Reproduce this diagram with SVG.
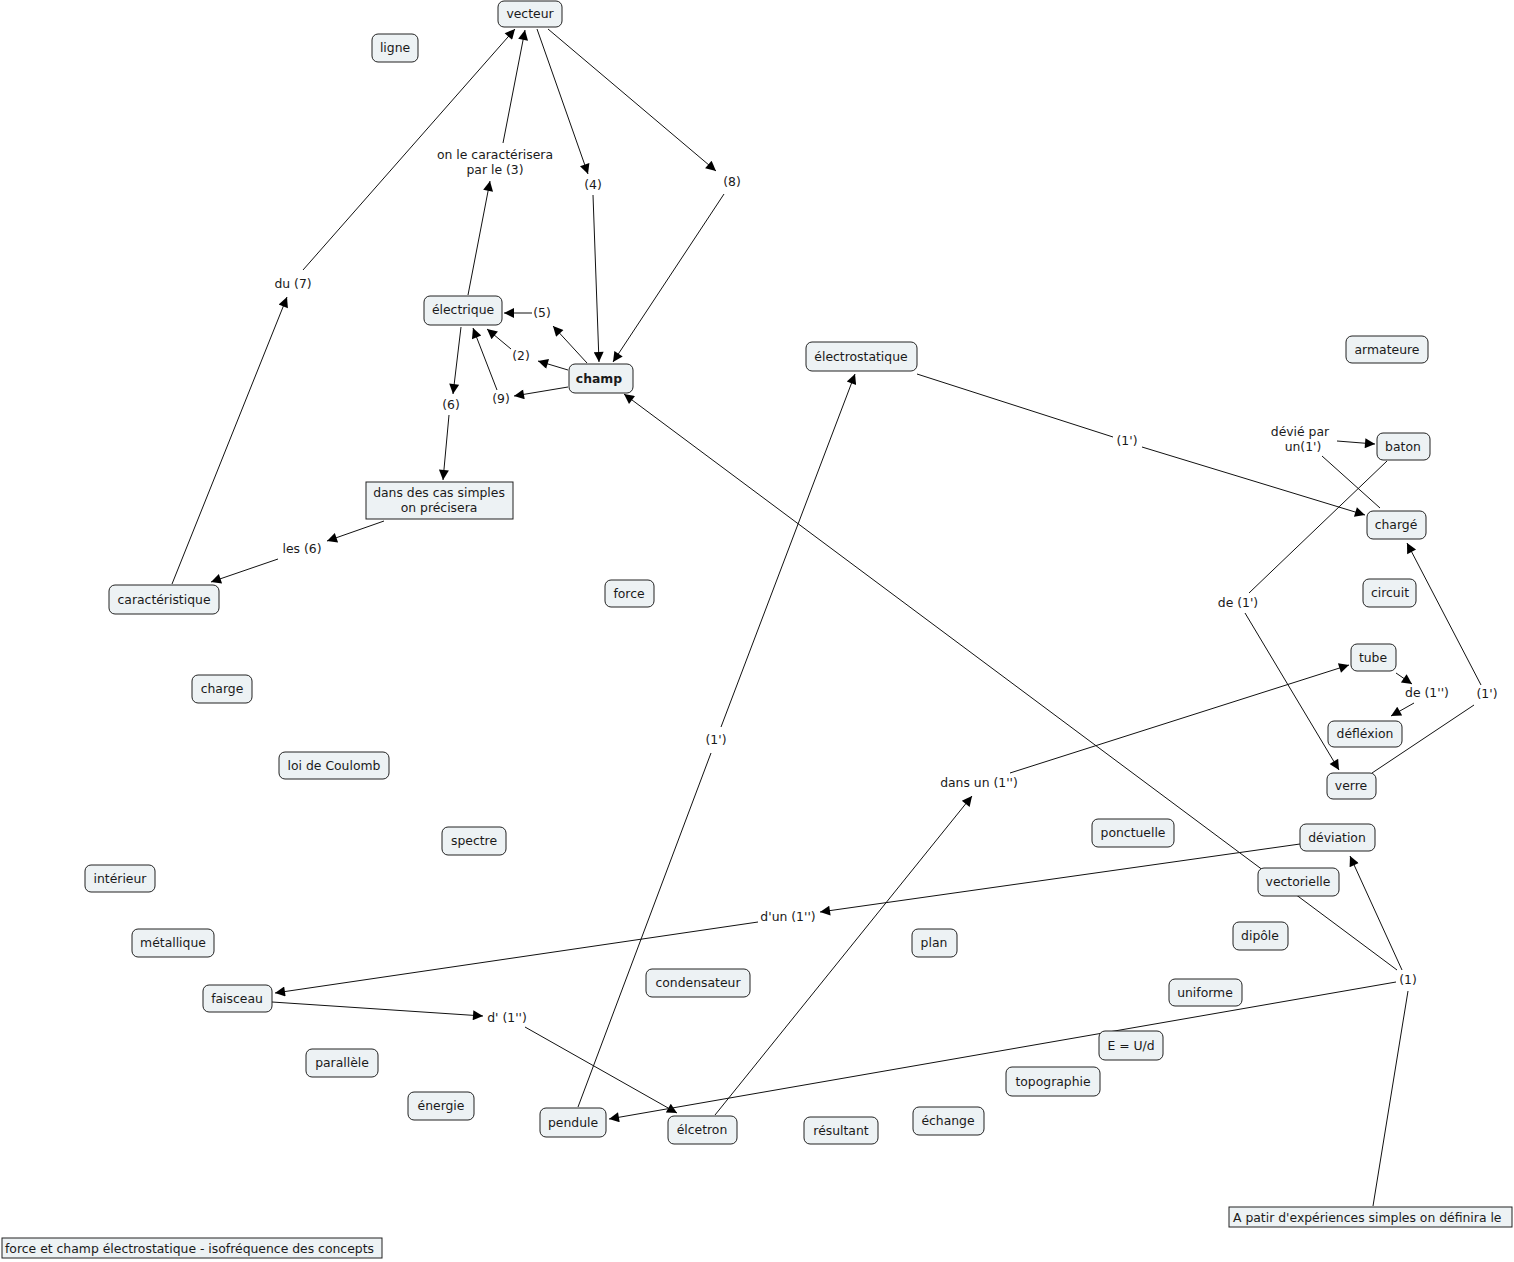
<svg xmlns="http://www.w3.org/2000/svg" width="1514" height="1262" viewBox="0 0 1514 1262">
<style>
text{font-family:"DejaVu Sans","Verdana",sans-serif;font-size:12.4px;fill:#1a1a1a}
.n rect{fill:#edf2f4;stroke:#222;stroke-width:1}
.n text{text-anchor:middle}
.lb{text-anchor:middle}
.c line{stroke:#111;stroke-width:1}
.a{marker-end:url(#ah)}
</style>
<defs>
<marker id="ah" viewBox="0 0 10 10" refX="10" refY="5" markerUnits="userSpaceOnUse" markerWidth="13" markerHeight="10" orient="auto">
<path d="M0,0 L10,5 L0,10 z" fill="#000"/>
</marker>
</defs>
<rect width="1514" height="1262" fill="#fff"/>
<g id="connectors" class="c">
<line class="a" x1="172" y1="584" x2="287" y2="297"/>
<line class="a" x1="303" y1="270" x2="515" y2="29"/>
<line class="a" x1="468" y1="295" x2="490" y2="181"/>
<line class="a" x1="503" y1="143" x2="525" y2="30"/>
<line class="a" x1="537" y1="29" x2="588" y2="174"/>
<line class="a" x1="593" y1="195" x2="599" y2="362"/>
<line class="a" x1="548" y1="29" x2="716" y2="171"/>
<line class="a" x1="724" y1="194" x2="613" y2="362"/>
<line class="a" x1="587" y1="363" x2="553" y2="326"/>
<line class="a" x1="532" y1="313" x2="504" y2="313"/>
<line class="a" x1="568" y1="370" x2="538" y2="361"/>
<line class="a" x1="511" y1="349" x2="487" y2="329"/>
<line class="a" x1="568" y1="387" x2="514" y2="396"/>
<line class="a" x1="497" y1="390" x2="473" y2="328"/>
<line class="a" x1="461" y1="327" x2="453" y2="394"/>
<line class="a" x1="449" y1="415" x2="443" y2="480"/>
<line class="a" x1="384" y1="521" x2="327" y2="541"/>
<line class="a" x1="278" y1="559" x2="211" y2="582"/>
<line x1="917" y1="374" x2="1113" y2="437"/>
<line class="a" x1="1142" y1="447" x2="1365" y2="515"/>
<line x1="1380" y1="508" x2="1322" y2="456"/>
<line class="a" x1="1337" y1="441" x2="1375" y2="444"/>
<line x1="1387" y1="461" x2="1249" y2="593"/>
<line class="a" x1="1245" y1="613" x2="1339" y2="770"/>
<line x1="1372" y1="773" x2="1474" y2="705"/>
<line class="a" x1="1481" y1="685" x2="1407" y2="543"/>
<line class="a" x1="1396" y1="673" x2="1412" y2="684"/>
<line class="a" x1="1414" y1="703" x2="1391" y2="716"/>
<line class="a" x1="715" y1="1115" x2="972" y2="796"/>
<line class="a" x1="1010" y1="773" x2="1349" y2="665"/>
<line class="a" x1="1300" y1="844" x2="820" y2="912"/>
<line class="a" x1="758" y1="922" x2="275" y2="993"/>
<line class="a" x1="272" y1="1002" x2="483" y2="1016"/>
<line class="a" x1="525" y1="1027" x2="677" y2="1113"/>
<line x1="578" y1="1107" x2="711" y2="753"/>
<line class="a" x1="721" y1="727" x2="855" y2="374"/>
<line class="a" x1="1397" y1="970" x2="624" y2="394"/>
<line class="a" x1="1402" y1="970" x2="1350" y2="856"/>
<line class="a" x1="1396" y1="982" x2="609" y2="1119"/>
<line x1="1373" y1="1206" x2="1408" y2="991"/>
</g>
<g id="link-labels">
<text class="lb" x="495" y="159">on le caractérisera</text>
<text class="lb" x="495" y="174">par le (3)</text>
<text class="lb" x="593" y="189">(4)</text>
<text class="lb" x="732" y="186">(8)</text>
<text class="lb" x="542" y="317">(5)</text>
<text class="lb" x="521" y="360">(2)</text>
<text class="lb" x="501" y="403">(9)</text>
<text class="lb" x="451" y="409">(6)</text>
<text class="lb" x="293" y="288">du (7)</text>
<text class="lb" x="302" y="553">les (6)</text>
<text class="lb" x="1127" y="445">(1')</text>
<text class="lb" x="1300" y="436">dévié par</text>
<text class="lb" x="1303" y="451">un(1')</text>
<text class="lb" x="1238" y="607">de (1')</text>
<text class="lb" x="1427" y="697">de (1'')</text>
<text class="lb" x="1487" y="698">(1')</text>
<text class="lb" x="716" y="744">(1')</text>
<text class="lb" x="979" y="787">dans un (1'')</text>
<text class="lb" x="788" y="921">d'un (1'')</text>
<text class="lb" x="507" y="1022">d' (1'')</text>
<text class="lb" x="1408" y="984">(1)</text>
</g>
<g id="n-vecteur" class="n"><rect x="498" y="1" width="64" height="26" rx="6"/><text x="530" y="18">vecteur</text></g>
<g id="n-ligne" class="n"><rect x="372" y="34" width="46" height="28" rx="6"/><text x="395" y="52">ligne</text></g>
<g id="n-electrique" class="n"><rect x="424" y="296" width="78" height="29" rx="6"/><text x="463" y="314">électrique</text></g>
<g id="n-champ" class="n"><rect x="569" y="364" width="64" height="29" rx="6"/><text x="599" y="383" font-weight="bold">champ</text></g>
<g id="n-electrostatique" class="n"><rect x="806" y="342" width="111" height="29" rx="6"/><text x="861" y="361">électrostatique</text></g>
<g id="n-armateure" class="n"><rect x="1346" y="336" width="82" height="27" rx="6"/><text x="1387" y="354">armateure</text></g>
<g id="n-baton" class="n"><rect x="1377" y="433" width="53" height="27" rx="6"/><text x="1403" y="451">baton</text></g>
<g id="n-charge2" class="n"><rect x="1367" y="511" width="59" height="28" rx="6"/><text x="1396" y="529">chargé</text></g>
<g id="n-circuit" class="n"><rect x="1363" y="579" width="53" height="28" rx="6"/><text x="1390" y="597">circuit</text></g>
<g id="n-tube" class="n"><rect x="1351" y="644" width="45" height="27" rx="6"/><text x="1373" y="662">tube</text></g>
<g id="n-deflexion" class="n"><rect x="1328" y="721" width="74" height="26" rx="6"/><text x="1365" y="738">défléxion</text></g>
<g id="n-verre" class="n"><rect x="1327" y="773" width="49" height="26" rx="6"/><text x="1351" y="790">verre</text></g>
<g id="n-caracteristique" class="n"><rect x="109" y="585" width="110" height="29" rx="6"/><text x="164" y="604">caractéristique</text></g>
<g id="n-force" class="n"><rect x="605" y="580" width="49" height="27" rx="6"/><text x="629" y="598">force</text></g>
<g id="n-charge" class="n"><rect x="192" y="675" width="60" height="28" rx="6"/><text x="222" y="693">charge</text></g>
<g id="n-coulomb" class="n"><rect x="279" y="752" width="110" height="27" rx="6"/><text x="334" y="770">loi de Coulomb</text></g>
<g id="n-spectre" class="n"><rect x="442" y="827" width="64" height="28" rx="6"/><text x="474" y="845">spectre</text></g>
<g id="n-interieur" class="n"><rect x="85" y="865" width="70" height="27" rx="6"/><text x="120" y="883">intérieur</text></g>
<g id="n-metallique" class="n"><rect x="132" y="929" width="82" height="28" rx="6"/><text x="173" y="947">métallique</text></g>
<g id="n-ponctuelle" class="n"><rect x="1092" y="819" width="82" height="28" rx="6"/><text x="1133" y="837">ponctuelle</text></g>
<g id="n-deviation" class="n"><rect x="1300" y="824" width="75" height="27" rx="6"/><text x="1337" y="842">déviation</text></g>
<g id="n-vectorielle" class="n"><rect x="1258" y="868" width="81" height="28" rx="6"/><text x="1298" y="886">vectorielle</text></g>
<g id="n-dipole" class="n"><rect x="1233" y="922" width="55" height="28" rx="6"/><text x="1260" y="940">dipôle</text></g>
<g id="n-plan" class="n"><rect x="912" y="929" width="45" height="28" rx="6"/><text x="934" y="947">plan</text></g>
<g id="n-condensateur" class="n"><rect x="646" y="969" width="104" height="28" rx="6"/><text x="698" y="987">condensateur</text></g>
<g id="n-uniforme" class="n"><rect x="1169" y="979" width="73" height="27" rx="6"/><text x="1205" y="997">uniforme</text></g>
<g id="n-faisceau" class="n"><rect x="203" y="985" width="69" height="27" rx="6"/><text x="237" y="1003">faisceau</text></g>
<g id="n-eud" class="n"><rect x="1099" y="1031" width="64" height="29" rx="6"/><text x="1131" y="1050">E = U/d</text></g>
<g id="n-topographie" class="n"><rect x="1006" y="1067" width="94" height="29" rx="6"/><text x="1053" y="1086">topographie</text></g>
<g id="n-parallele" class="n"><rect x="306" y="1049" width="72" height="28" rx="6"/><text x="342" y="1067">parallèle</text></g>
<g id="n-energie" class="n"><rect x="408" y="1092" width="66" height="28" rx="6"/><text x="441" y="1110">énergie</text></g>
<g id="n-pendule" class="n"><rect x="540" y="1108" width="66" height="29" rx="6"/><text x="573" y="1127">pendule</text></g>
<g id="n-elcetron" class="n"><rect x="668" y="1116" width="69" height="28" rx="6"/><text x="702" y="1134">élcetron</text></g>
<g id="n-resultant" class="n"><rect x="804" y="1117" width="74" height="27" rx="6"/><text x="841" y="1135">résultant</text></g>
<g id="n-echange" class="n"><rect x="913" y="1107" width="71" height="28" rx="6"/><text x="948" y="1125">échange</text></g>
<g id="n-cas-simples" class="n"><rect x="366" y="482" width="147" height="37"/><text x="439" y="497">dans des cas simples</text><text x="439" y="512">on précisera</text></g>
<g id="n-apatir" class="n"><rect x="1229" y="1207" width="283" height="20"/><text x="1233" y="1222" style="text-anchor:start">A patir d'expériences simples on définira le</text></g>
<g id="n-title" class="n"><rect x="2" y="1238" width="380" height="20"/><text x="5" y="1253" style="text-anchor:start">force et champ électrostatique - isofréquence des concepts</text></g>
</svg>
